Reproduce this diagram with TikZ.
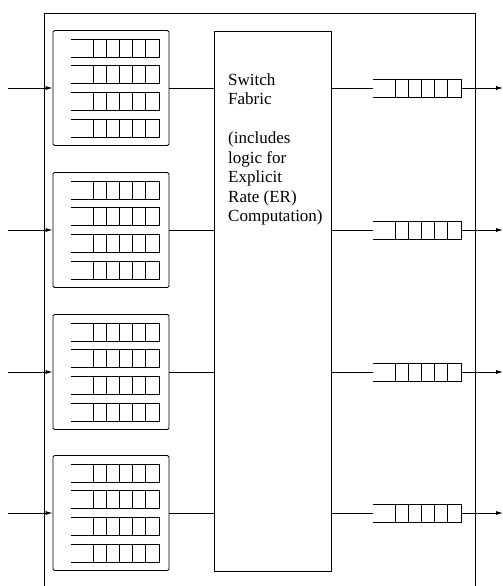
\documentclass[tikz,border=0pt]{standalone}
\usepackage{fontspec}
\setmainfont{Liberation Serif}
\usetikzlibrary{arrows.meta}
\tikzset{
  ln/.style={line width=0.8pt},
  inblock/.style={ln, draw, rounded corners=1.5pt, minimum width=116pt, minimum height=115pt, inner sep=0pt},
  fabric/.style={ln, draw, minimum width=117pt, minimum height=540pt, inner sep=0pt},
  lbl/.style={anchor=base west, inner sep=0pt, font=\fontsize{17}{19.5}\selectfont},
  arr/.style={ln, -{Latex[length=7pt,width=4pt]}},
  queue/.pic={
    \draw[ln] (0,-9) -- (88,-9) -- (88,9) -- (0,9);
    \foreach \k in {0,...,4} \draw[ln] (22+\k*13.2,-9) -- (22+\k*13.2,9);
    \coordinate (-w) at (0,0);
    \coordinate (-e) at (88,0);
  }
}
\begin{document}
\begin{tikzpicture}[x=1pt,y=-1pt]
\useasboundingbox (0,0) rectangle (503,586);
% outer switch boundary
\draw[ln] (44,586) -- (44,13) -- (475,13) -- (475,586);
% switch fabric
\node[fabric] (sw) at (272.5,301) {};
\foreach \y/\t [count=\i] in {85/{Switch}, 104.5/{Fabric}, 143.5/{(includes}, 163/{logic for}, 182.5/{Explicit}, 202/{Rate (ER)}, 221.5/{Computation)}}
  \node[lbl] (t\i) at (228,\y) {\t};
% input and output ports
\foreach \y [count=\i] in {88,230,372,513} {
  \node[inblock] (in\i) at (111,\y) {};
  \foreach \d [count=\j] in {-40,-13.3,13.3,40}
    \pic (iq\i\j) at (71,\y+\d) {queue};
  \coordinate (ain\i) at (8,\y);
  \draw[arr] (ain\i) -- (in\i.west);
  \draw[ln] (in\i.east) -- (in\i.east -| sw.west);
  \pic (oq\i) at (373,\y) {queue};
  \draw[ln] (oq\i-w -| sw.east) -- (oq\i-w);
  \coordinate (aout\i) at (503,\y);
  \draw[arr] (oq\i-e) -- (aout\i);
}
\end{tikzpicture}
\end{document}
